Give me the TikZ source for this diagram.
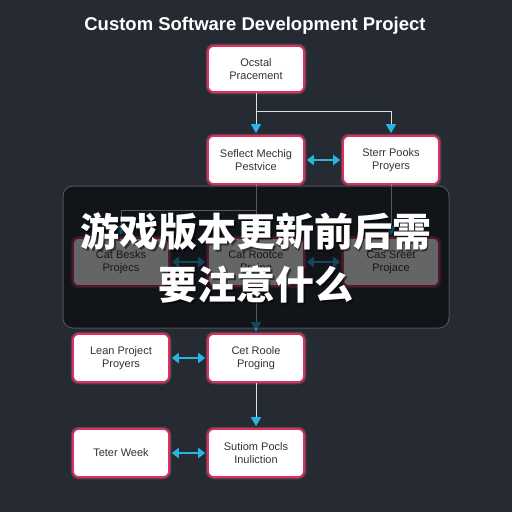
\documentclass[tikz,border=0pt]{standalone}
\usepackage{fontspec}
\setmainfont{Liberation Sans}
\newfontfamily\cjk{Noto Sans CJK SC}
\usetikzlibrary{arrows.meta,calc}
\definecolor{bg}{HTML}{262B33}
\definecolor{edge}{HTML}{E0305F}
\definecolor{arr}{HTML}{2AB4E2}
\definecolor{wire}{HTML}{D8E2EA}
\definecolor{txt}{HTML}{333333}
\definecolor{veil}{HTML}{05070A}
\definecolor{veilrim}{HTML}{4C525A}
\begin{document}
\begin{tikzpicture}[x=1pt,y=-1pt,
 box/.style={draw=edge, line width=1.6pt, fill=white, rounded corners=6pt,
   minimum width=96pt, minimum height=48pt, align=center,
   font=\fontsize{11}{13}\selectfont, text=txt, inner sep=2pt,
   preaction={draw=edge!70, line width=4.5pt, opacity=0.3}},
 flow/.style={draw=wire, line width=1pt,
   -{Triangle[color=arr,fill=arr,length=9pt,width=10pt]}, shorten >=2pt},
 wireonly/.style={draw=wire, line width=1pt},
 link/.style={draw=arr, line width=2.4pt,
   {Triangle[length=7pt,width=10pt]}-{Triangle[length=7pt,width=10pt]},
   shorten >=2pt, shorten <=2pt}
]
\useasboundingbox (0,0) rectangle (512,512);
\fill[bg] (0,0) rectangle (512,512);

\node[font=\bfseries\fontsize{18.5}{22}\selectfont, text=white] (title) at (255,26) {Custom Software Development Project};

\node[box, minimum height=46pt] (a) at (256,69) {Ocstal\\Pracement};
\node[box] (b2) at (256,160) {Seflect Mechig\\Pestvice};
\node[box] (b3) at (391,160) {Sterr Pooks\\Proyers};
\node[box] (m1) at (121,262) {Cat Besks\\Projecs};
\node[box] (m2) at (256,262) {Cat Rootce\\Proing};
\node[box] (m3) at (391,262) {Cas Sreet\\Projace};
\node[box] (c1) at (121,358) {Lean Project\\Proyers};
\node[box] (c2) at (256,358) {Cet Roole\\Proging};
\node[box] (d1) at (121,453) {Teter Week};
\node[box] (d2) at (256,453) {Sutiom Pocls\\Inuliction};

\coordinate (s1) at (256,111);
\draw[wireonly] (a.south) -- (s1);
\draw[flow] (s1) -- (b2.north);
\draw[flow] (s1) -| (b3.north);
\draw[link] (b2.east) -- (b3.west);

\coordinate (s2) at (256,210);
\draw[wireonly] (b2.south) -- (s2);
\draw[flow] (s2) -- (m2.north);
\draw[flow] (s2) -| (m1.north);
\draw[flow] (b3.south) -- (m3.north);
\draw[link] (m1.east) -- (m2.west);
\draw[link] (m2.east) -- (m3.west);
\draw[flow] (m2.south) -- (c2.north);

\draw[link] (c1.east) -- (c2.west);
\draw[flow] (c2.south) -- (d2.north);
\draw[link] (d1.east) -- (d2.west);

\node[fill=veil, fill opacity=0.62, draw=veilrim, draw opacity=1, line width=1pt,
  rounded corners=10pt, minimum width=386pt, minimum height=142pt, inner sep=0pt] (shade) at (256,257) {};

\node[font=\cjk\bfseries\fontsize{39}{53}\selectfont, text=black, opacity=0.5, align=center] (headshadow) at (257.5,259.5) {游戏版本更新前后需\\要注意什么};
\node[font=\cjk\bfseries\fontsize{39}{53}\selectfont, text=white, align=center] (headline) at (256,258) {游戏版本更新前后需\\要注意什么};
\end{tikzpicture}
\end{document}
